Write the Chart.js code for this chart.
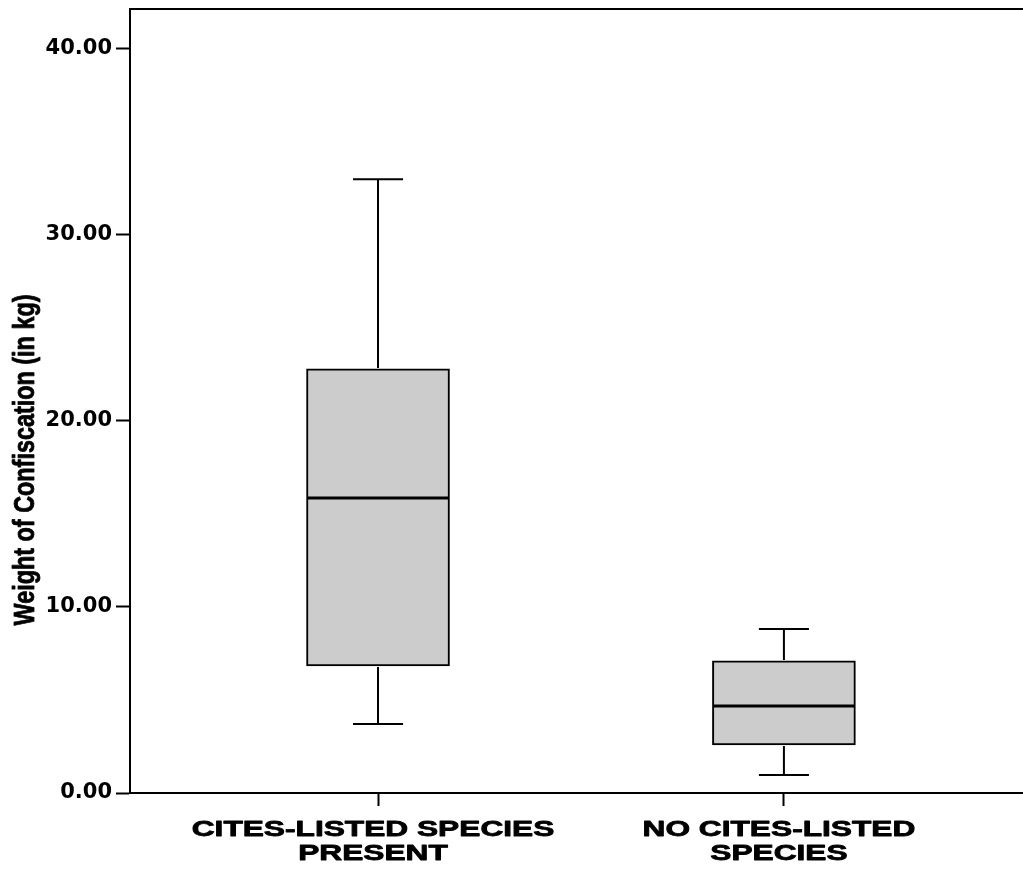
<!DOCTYPE html>
<html>
<head>
<meta charset="utf-8">
<title>Weight of Confiscation</title>
<script src="https://cdn.jsdelivr.net/npm/chart.js"></script>
<style>
	body { margin: 0; background: #fff; }
</style>
</head>
<body>
<canvas id="boxChart" width="1023" height="871"></canvas>
<script>
// box plot values (kg)
var groups = [['CITES-LISTED SPECIES', 'PRESENT'], ['NO CITES-LISTED', 'SPECIES']];
var whiskerLow = [3.71, 0.97];
var q1 = [6.83, 2.58];
var median = [15.86, 4.68];
var q3 = [22.80, 7.10];
var whiskerHigh = [33.00, 8.82];
var yTicks = [0, 10, 20, 30, 40];
var yTitle = 'Weight of Confiscation (in kg)';

// whiskers, medians, frame top and the stretched SPSS-like labels
var boxPlot = {
	id: 'boxPlot',
	afterDatasetsDraw: function(chart) {
		var ctx = chart.ctx;
		var y = chart.scales.y;
		var bars = chart.getDatasetMeta(0).data;
		ctx.save();
		ctx.strokeStyle = '#000';
		bars.forEach(function(bar, i) {
			var cx = bar.x, half = bar.width / 2, cap = bar.width * 0.175;
			var lo = y.getPixelForValue(whiskerLow[i]), hi = y.getPixelForValue(whiskerHigh[i]);
			ctx.lineWidth = 2;
			ctx.beginPath();
			ctx.moveTo(cx, y.getPixelForValue(q1[i]) + 1);
			ctx.lineTo(cx, lo);
			ctx.moveTo(cx, y.getPixelForValue(q3[i]) - 1);
			ctx.lineTo(cx, hi);
			ctx.moveTo(cx - cap, lo);
			ctx.lineTo(cx + cap, lo);
			ctx.moveTo(cx - cap, hi);
			ctx.lineTo(cx + cap, hi);
			ctx.stroke();

			ctx.lineWidth = 3;
			ctx.beginPath();
			ctx.moveTo(cx - half + 1, y.getPixelForValue(median[i]));
			ctx.lineTo(cx + half - 1, y.getPixelForValue(median[i]));
			ctx.stroke();
		});
		ctx.restore();
	},
	afterDraw: function(chart) {
		var ctx = chart.ctx;
		var area = chart.chartArea;
		var x = chart.scales.x;

		ctx.save();
		ctx.strokeStyle = '#000';
		ctx.lineWidth = 2;
		ctx.beginPath();
		ctx.moveTo(area.left, area.top);
		ctx.lineTo(area.right, area.top);
		ctx.stroke();

		ctx.fillStyle = '#000';
		ctx.lineWidth = 0.8;
		ctx.lineJoin = 'round';
		ctx.textAlign = 'center';
		ctx.textBaseline = 'alphabetic';
		ctx.font = 'bold 22px "Liberation Sans", Arial, sans-serif';
		groups.forEach(function(lines, i) {
			var px = x.getPixelForValue(i) - 5;
			lines.forEach(function(line, li) {
				ctx.save();
				ctx.translate(px, area.bottom + 43 + li * 24);
				ctx.scale(1.44, 1);
				ctx.fillText(line, 0, 0);
				ctx.strokeText(line, 0, 0);
				ctx.restore();
			});
		});

		ctx.translate(34, 460);
		ctx.rotate(-Math.PI / 2);
		ctx.scale(0.78, 1);
		ctx.font = 'bold 30px "Liberation Sans", Arial, sans-serif';
		ctx.fillText(yTitle, 0, 0);
		ctx.strokeText(yTitle, 0, 0);
		ctx.restore();
	}
};

var ctx = document.getElementById('boxChart');
var boxChart = new Chart(ctx, {
	type: 'bar',
	data: {
		datasets: [{
			data: groups.map(function(g, i) { return { x: i, y: [q1[i], q3[i]] }; }),
			backgroundColor: '#cccccc',
			borderColor: '#000',
			borderWidth: 2,
			borderSkipped: false,
			barThickness: 143
		}]
	},
	options: {
		responsive: false,
		animation: false,
		layout: { padding: { top: 9, right: 0, bottom: 0, left: 0 } },
		plugins: {
			legend: { display: false },
			tooltip: { enabled: false }
		},
		scales: {
			x: {
				type: 'linear',
				offset: false,
				min: -0.611,
				max: 1.589,
				afterBuildTicks: function(s) {
					s.ticks = groups.map(function(g, i) { return { value: i }; });
				},
				afterFit: function(s) {
					s.height = 78;
					s.paddingLeft = 0;
					s.paddingRight = 0;
				},
				grid: { offset: false, drawOnChartArea: false, tickLength: 13, tickColor: '#000', tickWidth: 2 },
				border: { color: '#000', width: 2 },
				ticks: { display: false }
			},
			y: {
				min: 0,
				max: 42.15,
				afterBuildTicks: function(s) {
					s.ticks = yTicks.map(function(v) { return { value: v }; });
				},
				afterFit: function(s) {
					s.width = 130;
					s.paddingTop = 0;
					s.paddingBottom = 0;
				},
				grid: { drawOnChartArea: false, tickLength: 14, tickColor: '#000', tickWidth: 2 },
				border: { color: '#000', width: 2 },
				ticks: {
					color: '#000',
					padding: 4,
					font: { family: '"DejaVu Sans"', size: 21, weight: 'bold' },
					callback: function(v) { return v.toFixed(2); }
				}
			}
		}
	},
	plugins: [boxPlot]
});
</script>
</body>
</html>
